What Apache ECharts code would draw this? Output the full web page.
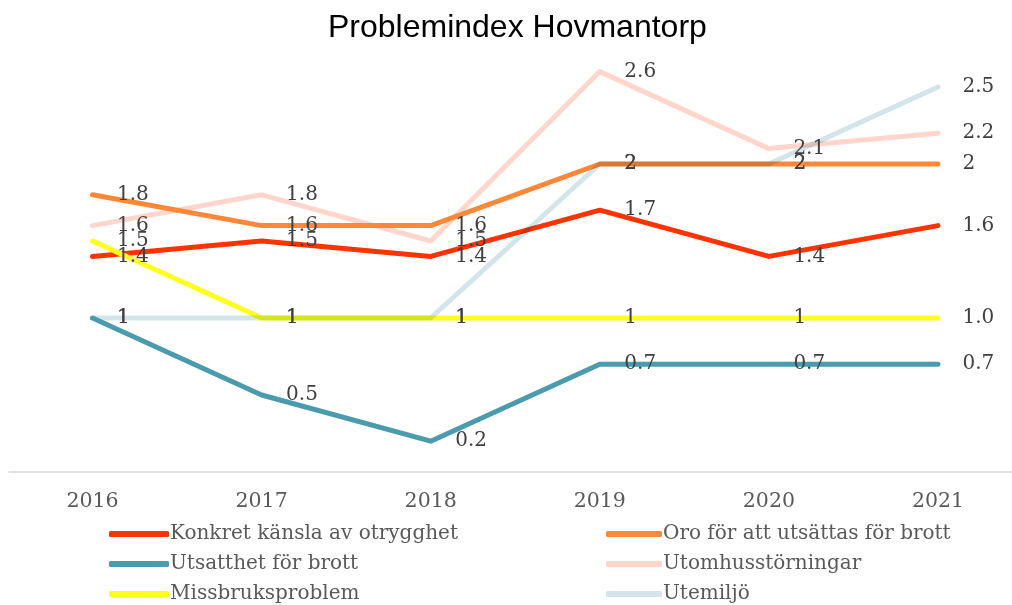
<!DOCTYPE html>
<html>
<head>
<meta charset="utf-8">
<script src="https://cdn.jsdelivr.net/npm/echarts@6/dist/echarts.min.js"></script>
<style>html,body{margin:0;padding:0;background:#fff}#c{width:1012px;height:605px}</style>
</head>
<body>
<div id="c"></div>
<script>
const years = ['2016', '2017', '2018', '2019', '2020', '2021'];
const konkret = [1.4, 1.5, 1.4, 1.7, 1.4, 1.6];
const oro = [1.8, 1.6, 1.6, 2, 2, 2];
const utsatthet = [1, 0.5, 0.2, 0.7, 0.7, 0.7];
const utomhus = [1.6, 1.8, 1.5, 2.6, 2.1, 2.2];
const missbruk = [1.5, 1, 1, 1, 1, 1.0];
const missbrukLabels = ['1.5', '1', '1', '1', '1', '1.0'];
const utemiljo = [1, 1, 1, 2, 2, 2.5];

const serif = 'DejaVu Serif';
function mk(name, data, color, labels, extra) {
  return Object.assign({
    name: name, type: 'line', data: data, showSymbol: true, symbol: 'circle', symbolSize: 1,
    xAxisIndex: 0, yAxisIndex: 0,
    lineStyle: { color: color, width: 5, cap: 'round', join: 'round' },
    itemStyle: { color: color },
    label: {
      show: true, position: 'right', distance: 24,
      fontFamily: serif, fontSize: 20, color: '#404040',
      formatter: function (p) { return labels ? labels[p.dataIndex] : String(p.value); }
    },
    labelLayout: { hideOverlap: false },
    emphasis: { disabled: true }, animation: false
  }, extra || {});
}

const chart = echarts.init(document.getElementById('c'));
chart.setOption({
  backgroundColor: '#ffffff',
  title: { text: 'Problemindex Hovmantorp', left: 323, top: 7,
    textStyle: { fontFamily: 'Liberation Sans', fontSize: 32, fontWeight: 'normal', color: '#000' } },
  grid: [
    { left: 92.5, right: 74, top: 10, bottom: 133, containLabel: false },
    { left: 9, width: 1010, top: 10, bottom: 133, containLabel: false }
  ],
  xAxis: [
    { gridIndex: 0, type: 'category', data: years, boundaryGap: false,
      axisLine: { show: false }, axisTick: { show: false }, splitLine: { show: false },
      axisLabel: { fontFamily: serif, fontSize: 20.5, color: '#595959', margin: 19 } },
    { gridIndex: 1, type: 'category', data: years, boundaryGap: true,
      axisLine: { lineStyle: { color: '#d9d9d9', width: 1.5 } }, axisTick: { show: false },
      axisLabel: { show: false }, splitLine: { show: false } }
  ],
  yAxis: [
    { gridIndex: 0, type: 'value', min: 0, max: 3, show: false, splitLine: { show: false } },
    { gridIndex: 1, type: 'value', min: 0, max: 3, show: false, splitLine: { show: false } }
  ],
  legend: [
    { data: ['Konkret känsla av otrygghet', 'Utsatthet för brott', 'Missbruksproblem'],
      orient: 'vertical', left: 104, top: 519, height: 95, itemGap: 10, itemWidth: 60, itemHeight: 6,
      icon: 'roundRect', textStyle: { fontFamily: serif, fontSize: 20, color: '#595959', padding: [0,0,0,-4] } },
    { data: ['Oro för att utsättas för brott', 'Utomhusstörningar', 'Utemiljö'],
      orient: 'vertical', left: 601, top: 519, height: 95, itemGap: 10, itemWidth: 56, itemHeight: 6,
      icon: 'roundRect', textStyle: { fontFamily: serif, fontSize: 20, color: '#595959', padding: [0,0,0,-4] } }
  ],
  series: [
    mk('Utomhusstörningar', utomhus, '#FFD5CC'),
    mk('Konkret känsla av otrygghet', konkret, '#FF3300'),
    mk('Oro för att utsättas för brott', oro, '#FF8838'),
    mk('Missbruksproblem', missbruk, '#FFFF1F', missbrukLabels),
    mk('Utemiljö', utemiljo, '#D3E5EA', null, { blendMode: 'multiply' }),
    mk('Utsatthet för brott', utsatthet, '#4A9BAD')
  ]
});
</script>
</body>
</html>
